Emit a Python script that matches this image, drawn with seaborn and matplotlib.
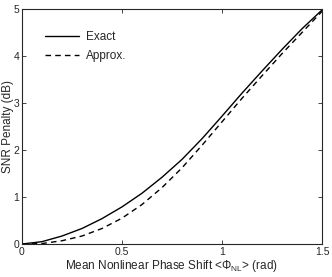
import pandas as pd
import numpy as np
import matplotlib
matplotlib.use('Agg')
import matplotlib.pyplot as plt
import seaborn as sns

sns.set_style("ticks")
plt.rcParams['font.family'] = ['Liberation Sans', 'DejaVu Sans']
plt.rcParams['mathtext.fontset'] = 'custom'
plt.rcParams['mathtext.rm'] = 'Liberation Sans'

# values
phase = [0.0, 0.1, 0.2, 0.3, 0.4, 0.5, 0.6, 0.7, 0.8, 0.9, 1.0, 1.1, 1.2, 1.3, 1.4, 1.5]
exact = [0.0, 0.05, 0.17, 0.33, 0.54, 0.79, 1.08, 1.42, 1.80, 2.24, 2.72, 3.21, 3.68, 4.14, 4.58, 4.98]
approx = [0.0, 0.01, 0.07, 0.17, 0.33, 0.55, 0.84, 1.20, 1.62, 2.10, 2.60, 3.10, 3.58, 4.05, 4.50, 4.95]

df = pd.DataFrame({
    'phase': phase * 2,
    'penalty': exact + approx,
    'curve': ['Exact'] * len(phase) + ['Approx.'] * len(phase),
})

fig = plt.figure(figsize=(3.32, 2.77), dpi=100)
ax = fig.add_axes([0.066, 0.119, 0.904, 0.8485])

sns.lineplot(data=df, x='phase', y='penalty', style='curve',
             dashes={'Exact': '', 'Approx.': (4, 3)}, color='black',
             linewidth=1.0, ax=ax)

ax.set_xlim(0, 1.5)
ax.set_ylim(0, 5)
ax.set_xticks([0, 0.5, 1, 1.5])
ax.set_xticklabels(['0', '0.5', '1', '1.5'])
ax.set_yticks([0, 1, 2, 3, 4, 5])
ax.tick_params(direction='in', top=True, right=True, length=3, width=0.6,
               labelsize=7.5, pad=2)
for s in ax.spines.values():
    s.set_linewidth(0.8)
    s.set_visible(True)

ax.set_xlabel(r'Mean Nonlinear Phase Shift <$\Phi_{\mathrm{NL}}$> (rad)', fontsize=8.5, labelpad=1)
ax.set_ylabel('SNR Penalty (dB)', fontsize=8.5)
ax.yaxis.set_label_coords(-0.028, 0.5)

leg = ax.legend(loc='upper left', frameon=False, fontsize=8.5, handlelength=2.9,
                handletextpad=0.6, bbox_to_anchor=(0.04, 0.95), labelspacing=0.6)
leg.set_title(None)

fig.savefig('out.png', dpi=100)
